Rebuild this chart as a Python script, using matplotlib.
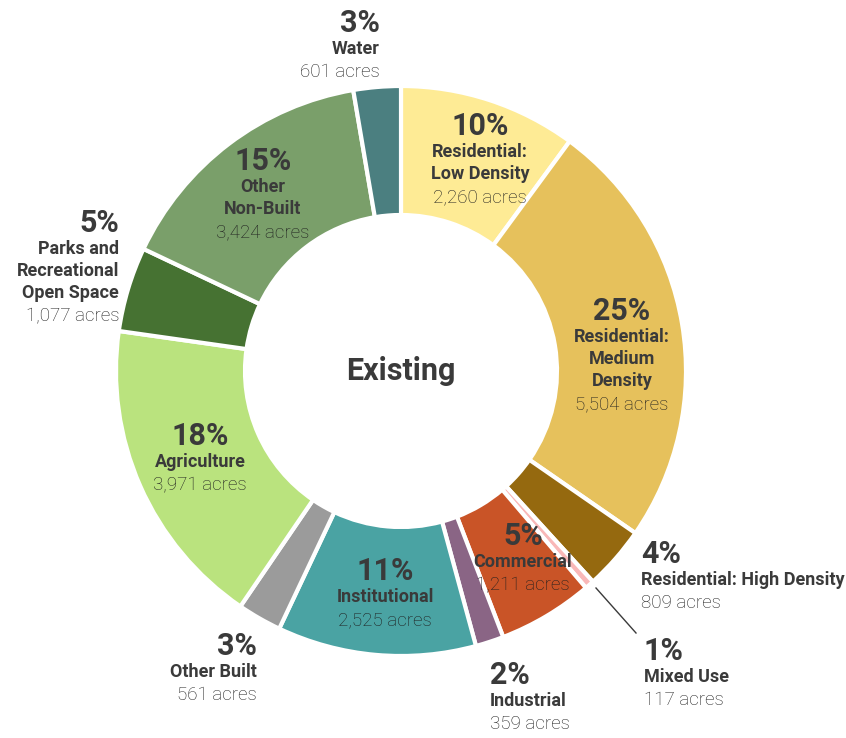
import matplotlib
matplotlib.use("Agg")
import matplotlib.pyplot as plt

# land use categories, clockwise from 12 o'clock
names = [
    "Residential:\nLow Density",
    "Residential:\nMedium\nDensity",
    "Residential: High Density",
    "Mixed Use",
    "Commercial",
    "Industrial",
    "Institutional",
    "Other Built",
    "Agriculture",
    "Parks and\nRecreational\nOpen Space",
    "Other\nNon-Built",
    "Water",
]
acres = [2260, 5504, 809, 117, 1211, 359, 2525, 561, 3971, 1077, 3424, 601]
colors = ["#FEEB95", "#E6C15C", "#95690F", "#F9B8B8", "#C95427", "#8A6585",
          "#4AA3A3", "#9B9B9B", "#BAE37E", "#467232", "#7A9F6A", "#4B7F80"]
center_title = "Existing"

# label anchors in pixels (x, y of the percent line, alignment)
label_pos = [
    (480, 126, "center"),
    (622, 311, "center"),
    (641, 554, "left"),
    (644, 651, "left"),
    (523, 536, "center"),
    (490, 675, "left"),
    (385, 571, "center"),
    (257, 646, "right"),
    (200, 436, "center"),
    (119, 223, "right"),
    (263, 161, "center"),
    (380, 23, "right"),
]

W, H = 846, 738
CX, CY = 401, 371
R, R_IN = 285, 156
TXT = "#3a3a3a"

plt.rcParams['font.family'] = ['Roboto', 'DejaVu Sans']

fig = plt.figure(figsize=(W / 100, H / 100), dpi=100)
ax = fig.add_axes([0, 0, 1, 1])
ax.axis("off")

ax.pie(acres, colors=colors, startangle=90, counterclock=False,
       center=(CX, H - CY), radius=R,
       wedgeprops=dict(width=R - R_IN, edgecolor="white", linewidth=3))
ax.set_xlim(0, W)
ax.set_ylim(0, H)
ax.set_aspect("equal")

ax.text(CX, H - CY, center_title, ha="center", va="center",
        fontsize=22, fontweight="bold", color=TXT)

total = sum(acres)
for name, val, (x, y, ha) in zip(names, acres, label_pos):
    pct = round(val / total * 100)
    ax.text(x, H - y, f"{pct}%", ha=ha, va="center", fontsize=22,
            fontweight="bold", color=TXT)
    yy = y + 26
    for line in name.split("\n"):
        ax.text(x, H - yy, line, ha=ha, va="center", fontsize=13,
                fontweight="bold", color=TXT)
        yy += 22
    ax.text(x, H - (yy + 1), f"{val:,} acres", ha=ha, va="center",
            fontsize=13.5, fontweight="light", color="#1e1e1e")

# leader line for the small mixed use slice
ax.plot([596, 636], [H - 588, H - 633], color=TXT, linewidth=1)

fig.savefig("out.png", dpi=100)
